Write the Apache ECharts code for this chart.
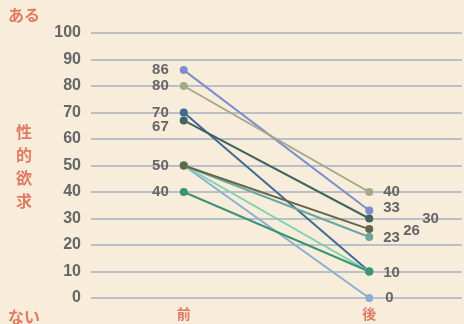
<!DOCTYPE html>
<html>
<head>
<meta charset="utf-8">
<script src="https://cdn.jsdelivr.net/npm/echarts@6/dist/echarts.min.js"></script>
<style>
  html, body { margin: 0; padding: 0; background: #f8ecda; }
  #chart { width: 464px; height: 324px; }
</style>
</head>
<body>
<div id="chart"></div>
<script>
// Before / after slope chart
const categories = ['前', '後'];
const yTicks = [0, 10, 20, 30, 40, 50, 60, 70, 80, 90, 100];

const seriesBefore = [86, 80, 70, 67, 50, 50, 50, 50, 40];
const seriesAfter  = [33, 40, 10, 30, 0, 10, 23, 26, 10];
const seriesColors = ['#7b8fcc', '#a3aa86', '#3e6a94', '#3e665e', '#89b0d2',
                      '#7fd0b0', '#6aa7a2', '#62664a', '#3c9477'];

// which end-points carry a value label, and how they are nudged
const showLeft  = [true, true, true, true, false, false, false, true, true];
const leftOffset  = [[0, 0], [0, 0], [0, 0], [0, 6], [0, 0], [0, 0], [0, 0], [0, 0], [0, 0]];
const showRight = [true, true, false, true, true, true, true, true, false];
const rightOffset = [[0, -3], [0, 0], [0, 0], [39, 0], [2, 0], [0, 1], [0, 1], [20, 2], [0, 0]];

const labelFont = { fontSize: 15, fontWeight: 'bold', color: '#666',
                    fontFamily: 'Liberation Sans, Arial, sans-serif' };

const series = seriesBefore.map((v, i) => ({
  type: 'line',
  data: [
    { value: v, label: Object.assign({ show: showLeft[i], position: 'left', distance: 11,
      offset: leftOffset[i] }, labelFont) },
    { value: seriesAfter[i], label: Object.assign({ show: showRight[i], position: 'right', distance: 10,
      offset: rightOffset[i] }, labelFont) }
  ],
  symbol: 'circle',
  symbolSize: 8,
  lineStyle: { width: 2, color: seriesColors[i] },
  itemStyle: { color: seriesColors[i] },
  emphasis: { disabled: true },
  animation: false
}));

const chart = echarts.init(document.getElementById('chart'));
const titleStyle = { fill: '#e07b62', fontSize: 16, fontWeight: 'bold',
                     fontFamily: 'Noto Sans CJK JP, sans-serif' };
chart.setOption({
  backgroundColor: '#f8ecda',
  grid: { left: 91, right: 2, top: 33, bottom: 26 },
  xAxis: {
    type: 'category',
    data: categories,
    boundaryGap: true,
    axisLine: { show: false },
    axisTick: { show: false },
    axisLabel: { color: '#e07b62', fontSize: 14, fontWeight: 'bold', margin: 9,
                 fontFamily: 'Noto Sans CJK JP, sans-serif' }
  },
  yAxis: {
    type: 'value',
    min: yTicks[0],
    max: yTicks[yTicks.length - 1],
    interval: 10,
    axisLine: { show: false },
    axisTick: { show: false },
    splitLine: { lineStyle: { color: '#bcbfc9', width: 2 } },
    axisLabel: { color: '#666', fontSize: 16, fontWeight: 'bold', margin: 10,
                 fontFamily: 'Liberation Sans, Arial, sans-serif' }
  },
  graphic: [
    { type: 'text', left: 8, top: 7, style: Object.assign({ text: 'ある' }, titleStyle) },
    { type: 'text', left: 16, top: 120, style: Object.assign({ text: '性\n的\n欲\n求', lineHeight: 23 }, titleStyle) },
    { type: 'text', left: 8, top: 309, style: Object.assign({ text: 'ない' }, titleStyle) }
  ],
  series: series
});
</script>
</body>
</html>
